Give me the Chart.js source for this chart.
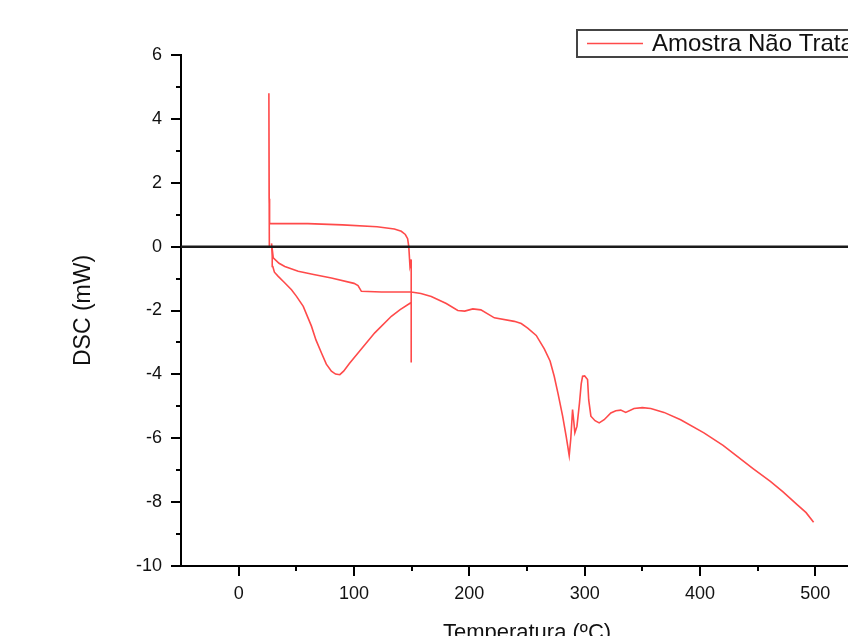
<!DOCTYPE html>
<html>
<head>
<meta charset="utf-8">
<script src="https://cdn.jsdelivr.net/npm/chart.js@4"></script>
<style>
  html, body { margin: 0; padding: 0; background: #fff; overflow: hidden; }
  #wrap { width: 848px; height: 636px; overflow: hidden; }
</style>
</head>
<body>
<div id="wrap"><canvas id="dsc" width="900" height="636"></canvas></div>
<script>
// curve, in drawing order
const tempC = [
    26.6, 26.2, 26.4, 26.8, 30, 60, 90, 120, 135, 141, 144.5, 146.5, 147.5, 148.5, 149.6, 149.6, 149.6,
    140, 132.4, 118, 103.5, 96, 91, 87.7, 84, 80.4, 76, 71.8, 67, 63.1, 56, 50, 45.8, 39, 34.3, 31, 29.6, 29.1, 28.5,
    30, 35, 40, 51.6, 65, 80.4, 100, 103.5, 106.4, 123.8, 149.6, 158, 167, 180, 190, 196, 203, 210, 221.7, 239, 245, 250.6, 258, 265,
    270, 273.6, 277, 280.9, 284, 286.6, 288, 289.5, 290.5, 291.5, 293.3, 295.5, 297, 298.2, 300, 302.5, 303.5, 305.4, 309, 312.6, 316.9, 322.7,
    327, 331.3, 335.6, 342.8, 350, 357.3, 368.8, 383.2, 403.4, 420, 432.3, 446, 461, 472, 484.2, 492, 498.5
];
const dscMW = [
    0.0, 4.8, 1.5, 0.72, 0.72, 0.72, 0.68, 0.62, 0.55, 0.48, 0.38, 0.25, 0.0, -0.6, -0.4, -3.63, -1.75,
    -1.97, -2.18, -2.70, -3.33, -3.66, -3.90, -4.01, -3.99, -3.90, -3.68, -3.33, -2.92, -2.49, -1.87, -1.55, -1.35, -1.10, -0.93, -0.80, -0.62, -0.3, 0.1,
    -0.35, -0.52, -0.62, -0.77, -0.87, -0.98, -1.15, -1.22, -1.40, -1.42, -1.42, -1.47, -1.56, -1.78, -2.00, -2.02, -1.95, -1.98, -2.23, -2.34, -2.41, -2.55, -2.78, -3.2,
    -3.58, -4.06, -4.62, -5.31, -5.95, -6.54, -6.0, -5.10, -5.45, -5.83, -5.63, -4.9, -4.3, -4.06, -4.05, -4.16, -4.8, -5.31, -5.45, -5.52, -5.42, -5.21,
    -5.14, -5.12, -5.19, -5.07, -5.04, -5.07, -5.19, -5.42, -5.83, -6.22, -6.57, -6.95, -7.35, -7.68, -8.08, -8.33, -8.63
];
const baselineX = [-50, 550];
const baselineY = [0, 0];
const xTickValues = [0, 100, 200, 300, 400, 500];
const xMinorTicks = [50, 150, 250, 350, 450, 550];
const yMinorTicks = [-9, -7, -5, -3, -1, 1, 3, 5];
const seriesLabel = 'Amostra Não Tratada';

const FONT = '"Liberation Sans", Arial, sans-serif';
const RED = '#ff4a4a';

const points = tempC.map((t, i) => ({ x: t, y: dscMW[i] }));
const baseline = baselineX.map((t, i) => ({ x: t, y: baselineY[i] }));

// Origin-style extras: minor ticks and boxed legend
const extras = {
    id: 'extras',
    afterDraw(chart) {
        const ctx = chart.ctx;
        const xs = chart.scales.x, ys = chart.scales.y;
        const area = chart.chartArea;
        ctx.save();
        ctx.strokeStyle = '#000';
        ctx.lineWidth = 2;
        ctx.beginPath();
        xMinorTicks.forEach(v => {
            const px = Math.round(xs.getPixelForValue(v));
            ctx.moveTo(px, area.bottom);
            ctx.lineTo(px, area.bottom + 5);
        });
        yMinorTicks.forEach(v => {
            const py = Math.round(ys.getPixelForValue(v));
            ctx.moveTo(area.left, py);
            ctx.lineTo(area.left - 5, py);
        });
        ctx.stroke();

        // legend box
        ctx.strokeStyle = '#444';
        ctx.lineWidth = 2;
        ctx.strokeRect(577, 30, 400, 27);
        ctx.strokeStyle = RED;
        ctx.lineWidth = 1.5;
        ctx.beginPath();
        ctx.moveTo(587, 43.5);
        ctx.lineTo(643, 43.5);
        ctx.stroke();
        ctx.fillStyle = '#111';
        ctx.font = '24px ' + FONT;
        ctx.textBaseline = 'middle';
        ctx.textAlign = 'left';
        ctx.fillText(seriesLabel, 652, 44);
        ctx.restore();
    }
};

new Chart(document.getElementById('dsc'), {
    type: 'scatter',
    data: {
        datasets: [{
            label: seriesLabel,
            data: points,
            showLine: true,
            borderColor: RED,
            borderWidth: 1.6,
            pointRadius: 0,
            tension: 0,
            order: 2
        }, {
            label: 'zero',
            data: baseline,
            showLine: true,
            borderColor: '#1a1a1a',
            borderWidth: 2.5,
            pointRadius: 0,
            order: 1
        }]
    },
    options: {
        responsive: false,
        animation: false,
        layout: { padding: { top: 55, right: 27, bottom: 0, left: 0 } },
        plugins: {
            legend: { display: false },
            tooltip: { enabled: false }
        },
        scales: {
            x: {
                type: 'linear',
                min: -50,
                max: 550,
                afterBuildTicks: scale => { scale.ticks = xTickValues.map(v => ({ value: v })); },
                afterFit: scale => { scale.height = 70; },
                border: { display: true, color: '#000', width: 2 },
                grid: { display: true, drawOnChartArea: false, drawTicks: true, tickLength: 10, color: '#000', lineWidth: 2 },
                ticks: { color: '#111', font: { family: FONT, size: 18 }, padding: 7, maxRotation: 0 },
                title: {
                    display: true,
                    text: 'Temperatura (ºC)',
                    color: '#111',
                    font: { family: FONT, size: 22, lineHeight: 0.3 },
                    padding: { top: 0, bottom: 0 }
                }
            },
            y: {
                min: -10,
                max: 6,
                afterFit: scale => { scale.width = 181; },
                border: { display: true, color: '#000', width: 2 },
                grid: { display: true, drawOnChartArea: false, drawTicks: true, tickLength: 10, color: '#000', lineWidth: 2 },
                ticks: { stepSize: 2, color: '#111', font: { family: FONT, size: 18 }, padding: 9 },
                title: {
                    display: true,
                    text: 'DSC (mW)',
                    color: '#111',
                    font: { family: FONT, size: 23 },
                    padding: { top: 70, bottom: 0 }
                }
            }
        }
    },
    plugins: [extras]
});
</script>
</body>
</html>
